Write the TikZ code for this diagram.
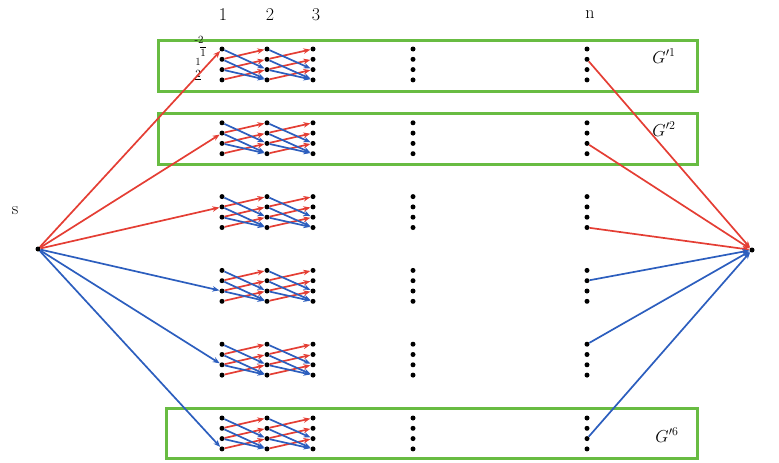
\documentclass[tikz,border=0pt]{standalone}
\usepackage{amsmath}
\usepackage{tikz}
\usetikzlibrary{arrows.meta}
\definecolor{edge-red}{RGB}{228,62,52}
\definecolor{edge-blue}{RGB}{44,94,190}
\definecolor{box-green}{RGB}{104,188,66}
\tikzset{
    vertex/.style = {circle, fill=black, inner sep=0pt, minimum size=5pt},
    red-arc/.style = {draw=edge-red, line width=1.7pt, -{Stealth[length=7pt,width=5.5pt]}},
    blue-arc/.style = {draw=edge-blue, line width=1.7pt, -{Stealth[length=7pt,width=5.5pt]}},
    green-box/.style = {draw=box-green, line width=3pt, rectangle, inner sep=0pt},
    col-label/.style = {font=\fontsize{18}{20}\selectfont},
    box-label/.style = {font=\fontsize{18}{20}\selectfont},
    row-label/.style = {font=\fontsize{11}{12}\selectfont, inner sep=0pt},
}

\begin{document}
\begin{tikzpicture}[x=1pt, y=-1pt]
\useasboundingbox (0,0) rectangle (779,463);

% subgraph boxes
\node[green-box, minimum width=539pt, minimum height=51pt] (box1) at (427.5,65.5) {};
\node[green-box, minimum width=539pt, minimum height=51pt] (box2) at (427.5,138.5) {};
\node[green-box, minimum width=531pt, minimum height=50pt] (box6) at (431.5,433) {};
\node[box-label] at (664,56) {$G'^{1}$};
\node[box-label] at (664,129) {$G'^{2}$};
\node[box-label] at (667,435) {$G'^{6}$};

% column labels
\node[col-label] (lab1) at (223,15) {1};
\node[col-label] (lab2) at (270,15) {2};
\node[col-label] (lab3) at (316,15) {3};
\node[col-label] (labn) at (590,15) {n};

% row labels of the first copy
\node[row-label] (row-a) at (199,40) {-2};
\node[row-label] (row-b) at (203,51.5) {$\overline{1}$};
\node[row-label] (row-c) at (198,62) {1};
\node[row-label] (row-d) at (198,75.5) {$\underline{2}$};

% source and sink
\node[vertex] (s) at (38,249) {};
\node[col-label] at (15,211) {s};
\node[vertex] (t) at (752,250) {};

% the six copies
\foreach \g in {1,...,6} {
  \foreach \c/\x in {1/222,2/267,3/313,4/413,5/587} {
    \foreach \r in {1,...,4} {
      \node[vertex] (g\g-c\c-r\r) at (\x, {49+(\g-1)*73.8+(\r-1)*10.3}) {};
    }
  }
  \foreach \a/\b in {1/2,2/3} {
    \draw[red-arc] (g\g-c\a-r2) -- (g\g-c\b-r1);
    \draw[red-arc] (g\g-c\a-r3) -- (g\g-c\b-r2);
    \draw[red-arc] (g\g-c\a-r4) -- (g\g-c\b-r3);
    \draw[blue-arc] (g\g-c\a-r1) -- (g\g-c\b-r3);
    \draw[blue-arc] (g\g-c\a-r2) -- (g\g-c\b-r4);
    \draw[blue-arc] (g\g-c\a-r3) -- (g\g-c\b-r4);
  }
}

% source arcs
\draw[red-arc] (s) -- (g1-c1-r1);
\draw[red-arc] (s) -- (g2-c1-r2);
\draw[red-arc] (s) -- (g3-c1-r2);
\draw[blue-arc] (s) -- (g4-c1-r3);
\draw[blue-arc] (s) -- (g5-c1-r3);
\draw[blue-arc] (s) -- (g6-c1-r4);

% sink arcs
\draw[red-arc] (g1-c5-r2) -- (t);
\draw[red-arc] (g2-c5-r3) -- (t);
\draw[red-arc] (g3-c5-r4) -- (t);
\draw[blue-arc] (g4-c5-r2) -- (t);
\draw[blue-arc] (g5-c5-r1) -- (t);
\draw[blue-arc] (g6-c5-r3) -- (t);

\end{tikzpicture}
\end{document}
